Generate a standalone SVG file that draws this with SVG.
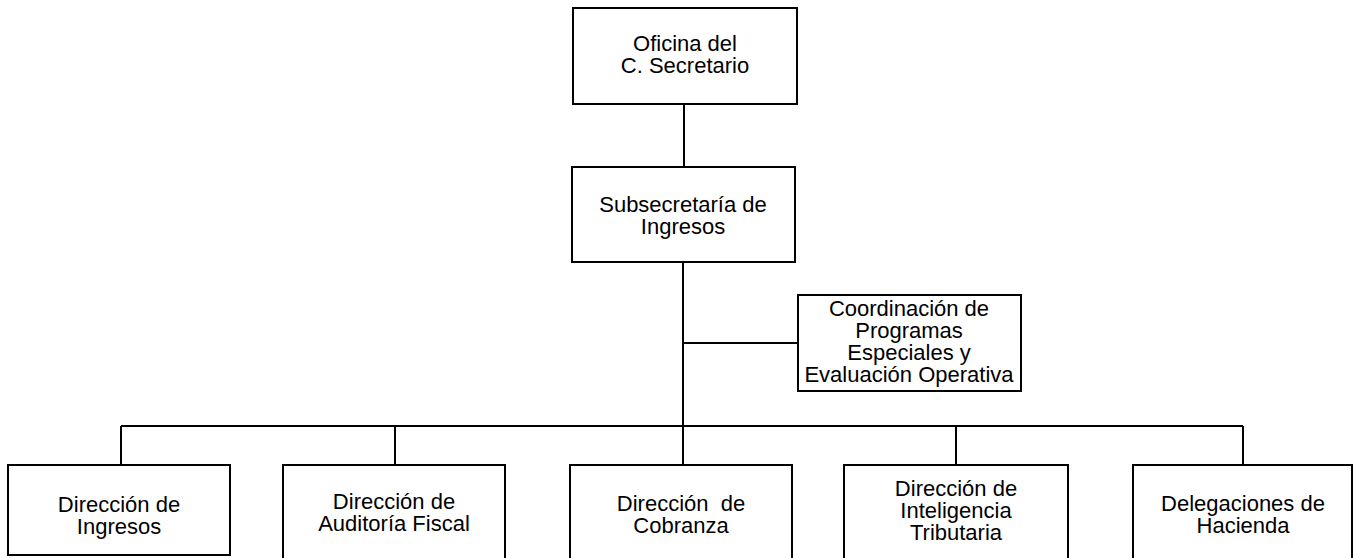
<svg xmlns="http://www.w3.org/2000/svg" width="1357" height="558" viewBox="0 0 1357 558">
<style>
.box{fill:#fff;stroke:#000;stroke-width:2}
.ln{stroke:#000;stroke-width:2;fill:none}
text{font-family:"Liberation Sans",Arial,sans-serif;font-size:22px;fill:#000;text-anchor:middle;white-space:pre}
</style>
<rect width="1357" height="558" fill="#fff"/>
<g id="connectors">
<line class="ln" x1="684" y1="104" x2="684" y2="167"/>
<line class="ln" x1="683" y1="262" x2="683" y2="426"/>
<line class="ln" x1="683" y1="343" x2="798" y2="343"/>
<line class="ln" x1="121" y1="426" x2="1243" y2="426"/>
<line class="ln" x1="121" y1="426" x2="121" y2="465"/>
<line class="ln" x1="395" y1="426" x2="395" y2="465"/>
<line class="ln" x1="683" y1="426" x2="683" y2="465"/>
<line class="ln" x1="956" y1="426" x2="956" y2="465"/>
<line class="ln" x1="1243" y1="426" x2="1243" y2="465"/>
</g>
<g id="oficina">
<rect class="box" x="573" y="8" width="224" height="96"/>
<text x="685" y="51">Oficina del</text>
<text x="685" y="73">C. Secretario</text>
</g>
<g id="subsecretaria">
<rect class="box" x="572" y="167" width="223" height="95"/>
<text x="683" y="212">Subsecretaría de</text>
<text x="683" y="234">Ingresos</text>
</g>
<g id="coordinacion">
<rect class="box" x="798" y="295" width="223" height="96"/>
<text x="909" y="316">Coordinación de</text>
<text x="909" y="338">Programas</text>
<text x="909" y="360">Especiales y</text>
<text x="909" y="382">Evaluación Operativa</text>
</g>
<g id="dir-ingresos">
<rect class="box" x="8" y="465" width="222" height="90"/>
<text x="119" y="512">Dirección de</text>
<text x="119" y="534">Ingresos</text>
</g>
<g id="dir-auditoria">
<rect class="box" x="283" y="465" width="222" height="100"/>
<text x="394" y="509">Dirección de</text>
<text x="394" y="531">Auditoría Fiscal</text>
</g>
<g id="dir-cobranza">
<rect class="box" x="570" y="465" width="222" height="100"/>
<text x="681" y="511">Dirección  de</text>
<text x="681" y="533">Cobranza</text>
</g>
<g id="dir-inteligencia">
<rect class="box" x="844" y="465" width="224" height="100"/>
<text x="956" y="496">Dirección de</text>
<text x="956" y="518">Inteligencia</text>
<text x="956" y="540">Tributaria</text>
</g>
<g id="delegaciones">
<rect class="box" x="1133" y="465" width="219" height="100"/>
<text x="1243" y="511">Delegaciones de</text>
<text x="1243" y="533">Hacienda</text>
</g>
</svg>
